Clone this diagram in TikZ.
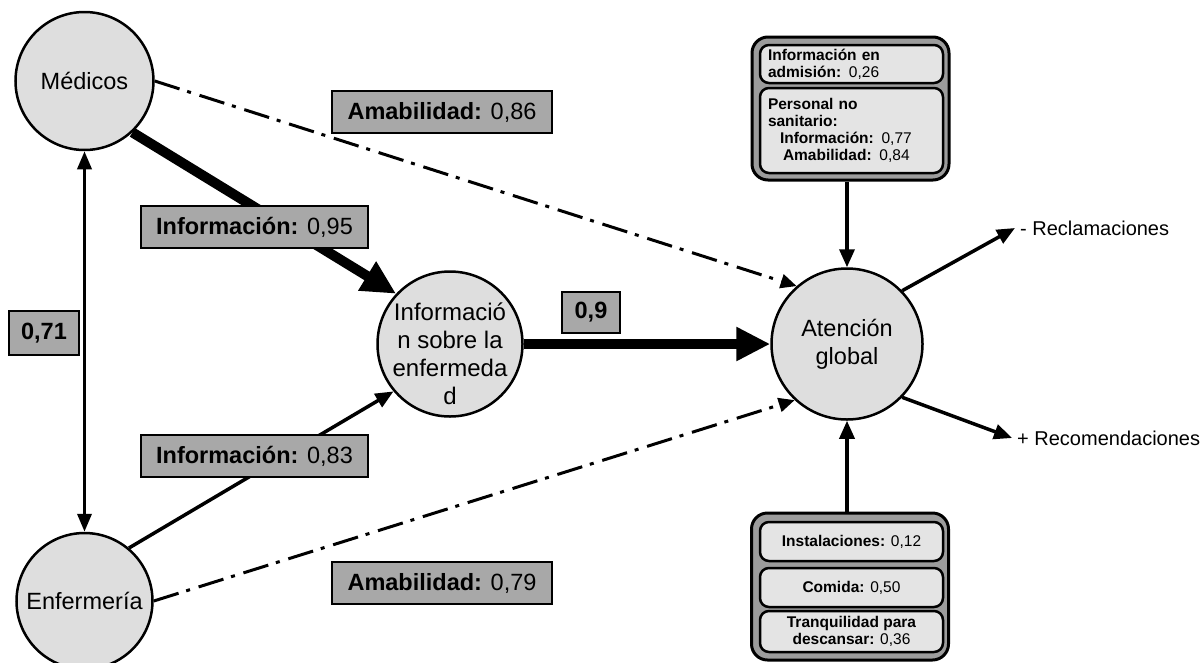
\documentclass[tikz,border=0pt]{standalone}
\usepackage{fontspec}
\setmainfont{Liberation Sans}
\usetikzlibrary{arrows.meta}
\definecolor{circfill}{HTML}{DEDEDE}
\definecolor{lblfill}{HTML}{A8A8A8}
\definecolor{outerfill}{HTML}{9C9C9C}
\definecolor{innerfill}{HTML}{E4E4E4}
\begin{document}
\begin{tikzpicture}[x=1pt,y=-1pt,
  circ/.style={circle,draw,line width=2.5pt,fill=circfill,inner sep=0pt,align=center,
    font=\fontsize{23.5}{28}\selectfont},
  lbl/.style={draw,line width=2.5pt,fill=lblfill,inner sep=0pt,minimum height=42pt,
    font=\fontsize{23.5}{28}\selectfont},
  thickarr/.style={line width=10pt,-{Triangle[length=34pt,width=32pt]}},
  thinarr/.style={line width=3.5pt,-{Triangle[length=18pt,width=15pt]}},
  botharr/.style={line width=3.5pt,{Triangle[length=18pt,width=14pt]}-{Triangle[length=18pt,width=14pt]}},
  dd/.style={line width=3pt,dash pattern=on 26pt off 8pt on 4pt off 9pt,-{Triangle[length=16pt,width=14pt]}},
  outerbox/.style={draw,line width=3pt,fill=outerfill,rounded corners=16pt,inner sep=0pt,minimum width=197pt},
  innerbox/.style={draw,line width=2.5pt,fill=innerfill,rounded corners=9pt,inner sep=0pt,minimum width=183pt,
    font=\fontsize{15.5}{17}\selectfont},
  outtxt/.style={anchor=west,inner sep=5pt,font=\fontsize{20}{24}\selectfont}
]
\useasboundingbox (0,0) rectangle (1204,662);
\fill[white] (0,0) rectangle (1204,662);

% circles
\node[circ,minimum size=138pt] (med) at (84.5,81) {Médicos};
\node[circ,minimum size=136pt] (enf) at (84.5,601) {Enfermería};
\node[circ,minimum size=145pt] (info) at (450,344) {};
\node[align=center,inner sep=0pt,font=\fontsize{24}{28}\selectfont] (infotxt) at (450,354)
  {Informació\\n sobre la\\enfermeda\\d};
\node[circ,minimum size=151pt] (att) at (847,344) {Atención\\global};

% top box
\node[outerbox,minimum height=143pt] (topbox) at (850.5,108.5) {};
\node[innerbox,minimum height=38pt,text width=167pt,inner xsep=8pt,align=left] (tb1) at (851.5,64)
  {\textbf{Información en}\\\textbf{admisión:} 0,26};
\node[innerbox,minimum height=85pt,text width=167pt,inner xsep=8pt,align=left] (tb2) at (851.5,130.5)
  {\textbf{Personal no}\\\textbf{sanitario:}\\\hspace*{12pt}\textbf{Información:} 0,77\\\hspace*{15pt}\textbf{Amabilidad:} 0,84};

% bottom box
\node[outerbox,minimum height=147pt] (botbox) at (850,586.5) {};
\node[innerbox,minimum height=39pt,align=center] (bb1) at (851.5,541.5) {\textbf{Instalaciones:} 0,12};
\node[innerbox,minimum height=39pt,align=center] (bb2) at (851.5,587.5) {\textbf{Comida:} 0,50};
\node[innerbox,minimum height=41pt,align=center] (bb3) at (851.5,631.5)
  {\textbf{Tranquilidad para}\\\textbf{descansar:} 0,36};

% outputs
\node[outtxt] (rec) at (1015,228) {- Reclamaciones};
\node[outtxt] (recom) at (1012,438) {+ Recomendaciones};

% connectors
\draw[thickarr] (med.-47) -- (info.137);
\draw[thinarr] (enf.50) -- (info.220);
\draw[thickarr] (info.east) -- (att.west);
\draw[botharr] (med) -- (enf);
\draw[dd] (med.east) -- (att.131);
\draw[dd] (enf.east) -- (att.227);
\draw[thinarr] (topbox.south -| att.north) -- (att.north);
\draw[thinarr] (botbox.north -| att.south) -- (att.south);
\draw[thinarr] (att.44) -- (rec.west);
\draw[thinarr] (att.-44) -- (recom.west);

% labels
\node[lbl,minimum width=220pt] (l86) at (442,112) {\textbf{Amabilidad:} 0,86};
\node[lbl,minimum width=227pt] (l95) at (254.5,227) {\textbf{Información:} 0,95};
\node[lbl,minimum width=70pt,minimum height=44pt] (l71) at (44,333) {\textbf{0,71}};
\node[lbl,minimum width=227pt] (l83) at (254.5,456) {\textbf{Información:} 0,83};
\node[lbl,minimum width=220pt] (l79) at (442,583) {\textbf{Amabilidad:} 0,79};
\node[lbl,minimum width=58pt,minimum height=41pt] (l9) at (591,312.5) {\textbf{0,9}};
\end{tikzpicture}
\end{document}
